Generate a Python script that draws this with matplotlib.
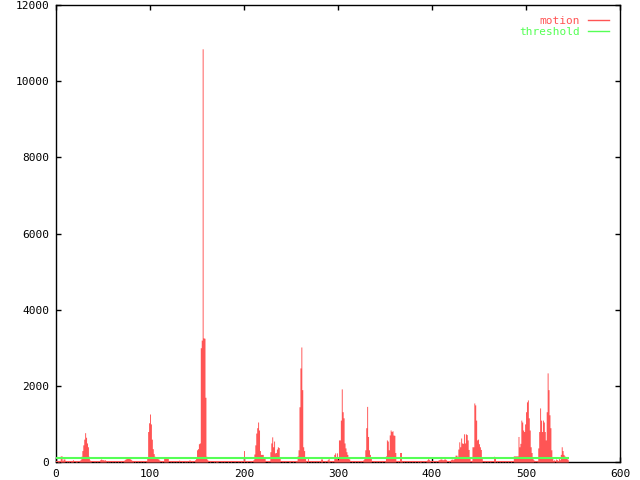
import matplotlib
matplotlib.use("Agg")
import matplotlib.pyplot as plt
from matplotlib.lines import Line2D
import numpy as np

# motion value per frame
motion = [
    0, 0, 20, 30, 0, 160, 160, 40, 80, 80, 0, 0, 20, 0, 30, 0, 40, 30, 60, 0,
    0, 20, 30, 0, 0, 20, 60, 150, 300, 450, 600, 770, 650, 500, 400, 150, 50, 20, 0, 0,
    0, 20, 0, 0, 30, 0, 0, 60, 80, 60, 60, 50, 60, 40, 0, 20, 0, 30, 0, 0,
    20, 0, 0, 30, 0, 0, 20, 0, 0, 30, 0, 0, 40, 60, 80, 90, 100, 100, 90, 80,
    60, 40, 20, 0, 30, 0, 0, 20, 0, 0, 40, 0, 0, 20, 0, 0, 30, 100, 800, 1030,
    1260, 1000, 600, 350, 220, 150, 120, 100, 90, 80, 50, 0, 0, 20, 0, 100, 100, 100, 100, 100,
    0, 0, 20, 0, 0, 40, 0, 0, 20, 0, 0, 50, 0, 0, 30, 0, 0, 40, 0, 20,
    0, 0, 60, 0, 0, 30, 0, 0, 60, 100, 320, 350, 480, 500, 3000, 3200, 10850, 3260, 3250, 1700,
    150, 60, 0, 0, 40, 0, 0, 0, 20, 0, 40, 40, 40, 0, 0, 0, 20, 0, 0, 40,
    0, 0, 0, 20, 0, 0, 40, 0, 0, 0, 30, 0, 0, 0, 20, 0, 0, 40, 0, 0,
    300, 0, 0, 30, 0, 0, 0, 20, 0, 0, 60, 210, 450, 760, 900, 1050, 840, 300, 200, 200,
    200, 120, 120, 0, 0, 0, 20, 0, 270, 500, 660, 400, 550, 240, 250, 340, 400, 380, 100, 0,
    0, 20, 0, 0, 30, 0, 0, 0, 20, 40, 0, 0, 30, 0, 0, 20, 40, 160, 320, 1450,
    2470, 3020, 1900, 400, 300, 100, 40, 0, 110, 0, 0, 30, 0, 0, 20, 0, 0, 40, 0, 0,
    20, 0, 80, 80, 0, 0, 30, 0, 0, 60, 100, 40, 0, 0, 40, 0, 200, 240, 130, 240,
    60, 580, 580, 1100, 1920, 1320, 1160, 500, 370, 270, 200, 100, 80, 0, 0, 20, 0, 0, 30, 0,
    0, 20, 0, 0, 40, 0, 0, 60, 140, 320, 900, 1460, 670, 320, 200, 100, 0, 0, 20, 0,
    0, 30, 0, 0, 20, 0, 0, 40, 0, 0, 20, 160, 580, 550, 320, 710, 840, 800, 820, 710,
    700, 250, 0, 0, 30, 0, 250, 250, 40, 0, 20, 0, 0, 30, 0, 0, 20, 0, 0, 40,
    0, 0, 20, 0, 0, 30, 0, 40, 40, 0, 0, 20, 0, 0, 30, 60, 120, 60, 30, 0,
    0, 20, 0, 0, 40, 0, 0, 60, 60, 80, 80, 60, 60, 80, 80, 60, 0, 0, 20, 0,
    60, 80, 60, 80, 100, 180, 180, 150, 340, 530, 400, 630, 500, 490, 740, 500, 740, 720, 580, 330,
    100, 0, 20, 400, 400, 1550, 1500, 1100, 580, 600, 480, 400, 330, 120, 0, 0, 20, 0, 0, 30,
    0, 0, 20, 0, 0, 0, 150, 100, 0, 30, 0, 0, 20, 0, 0, 40, 0, 0, 20, 0,
    0, 30, 0, 0, 20, 0, 0, 160, 160, 160, 160, 160, 670, 400, 490, 1100, 1050, 840, 800, 1000,
    1320, 1580, 1630, 1160, 840, 400, 250, 100, 60, 0, 20, 0, 40, 370, 800, 1420, 1100, 800, 1100, 1050,
    800, 580, 1320, 2340, 1900, 1240, 900, 320, 120, 40, 60, 0, 80, 60, 40, 100, 60, 200, 400, 300,
    200, 160, 130, 100, 80, 60,
]
threshold = 100

xticks = [0, 100, 200, 300, 400, 500, 600]
yticks = [0, 2000, 4000, 6000, 8000, 10000, 12000]

red = "#ff5555"
green = "#55ff55"
mono = "DejaVu Sans Mono"

frames = np.arange(len(motion))

fig = plt.figure(figsize=(6.4, 4.8), dpi=100)
ax = fig.add_axes([56/640, 18/480, 564/640, 457/480])

# filled boxes as one step polygon, plus the red floor under the data range
ax.fill_between(frames, motion, step="mid", color=red, lw=0,
                antialiased=False, zorder=3)
ax.hlines(0, frames[0], frames[-1], color=red, lw=1.5, zorder=3)
ax.plot(frames, np.full(len(motion), threshold), color=green, lw=1.5, zorder=4)

ax.set_xlim(0, 600)
ax.set_ylim(0, 12000)
ax.set_xticks(xticks)
ax.set_yticks(yticks)
ax.tick_params(direction="in", length=3.6, width=1, top=True, right=True,
               labelsize=8, pad=5)
for lab in ax.get_xticklabels() + ax.get_yticklabels():
    lab.set_family(mono)
for s in ax.spines.values():
    s.set_linewidth(1)

handles = [Line2D([], [], color=red, lw=1), Line2D([], [], color=green, lw=1)]
ax.legend(handles, ["motion", "threshold"], loc="upper right", frameon=False,
          markerfirst=False, labelcolor="linecolor", handlelength=1.9,
          handletextpad=0.7, labelspacing=0.05, borderaxespad=0.6,
          prop={"family": mono, "size": 8})

fig.savefig("out.png", dpi=100)
